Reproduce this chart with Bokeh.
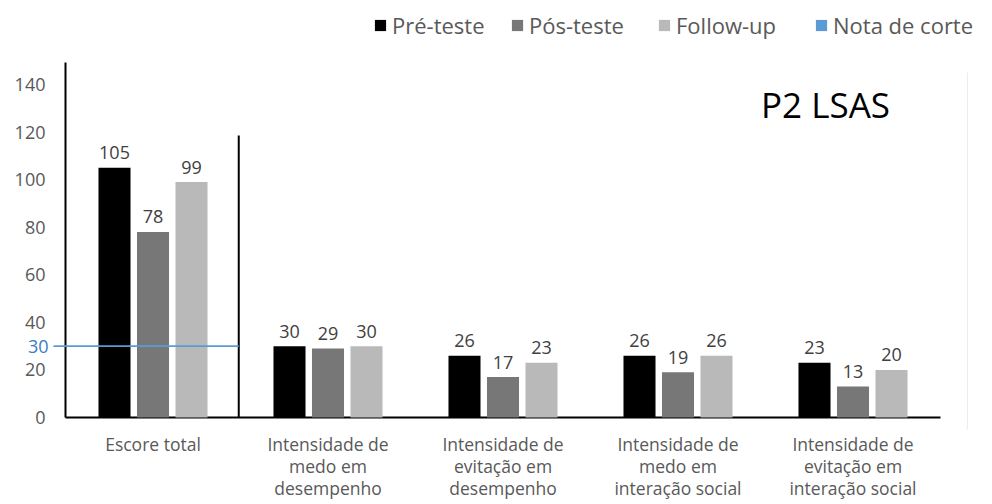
from bokeh.plotting import figure
from bokeh.models import (Range1d, FixedTicker, Legend, LegendItem, ColumnDataSource)
from bokeh.core.properties import value
from bokeh.embed import file_html
from bokeh.resources import INLINE

# ---- data -------------------------------------------------------------
categories = [
    "Escore total",
    "Intensidade de\nmedo em\ndesempenho",
    "Intensidade de\nevitação em\ndesempenho",
    "Intensidade de\nmedo em\ninteração social",
    "Intensidade de\nevitação em\ninteração social",
]
pre_teste = [105, 30, 26, 26, 23]
pos_teste = [78, 29, 17, 19, 13]
follow_up = [99, 30, 23, 26, 20]
nota_de_corte = 30
series_names = ["Pré-teste", "Pós-teste", "Follow-up", "Nota de corte"]
y_ticks = [0, 20, 40, 60, 80, 100, 120, 140]
chart_title = "P2 LSAS"

# ---- styling ----------------------------------------------------------
FONT = "Open Sans"
colors = ["#000000", "#777777", "#b9b9b9"]
cut_color = "#5b9bd5"

p = figure(width=992, height=504, output_backend="svg", toolbar_location=None,
           x_range=Range1d(-65 / 175, 927 / 175), y_range=Range1d(-5.04, 175.3),
           min_border_left=0, min_border_right=0, min_border_top=0,
           min_border_bottom=75)
p.outline_line_color = None
p.xgrid.visible = False
p.ygrid.visible = False
p.background_fill_color = "white"
p.border_fill_color = "white"

centers = [i + 0.5 for i in range(len(categories))]

# y axis drawn at the left edge of the first category
p.yaxis.fixed_location = 0
p.yaxis.ticker = FixedTicker(ticks=y_ticks)
p.yaxis.axis_line_color = None
p.yaxis.major_tick_line_color = None
p.yaxis.major_tick_out = 0
p.yaxis.major_tick_in = 0
p.yaxis.minor_tick_line_color = None
p.yaxis.major_label_standoff = 20
p.yaxis.major_label_text_font = FONT
p.yaxis.major_label_text_font_size = "18px"
p.yaxis.major_label_text_color = "#595959"

p.xaxis.ticker = FixedTicker(ticks=centers)
p.xaxis.major_label_overrides = {c: lab for c, lab in zip(centers, categories)}
p.xaxis.axis_line_color = None
p.xaxis.major_tick_line_color = None
p.xaxis.major_tick_out = 0
p.xaxis.major_tick_in = 0
p.xaxis.minor_tick_line_color = None
p.xaxis.major_label_standoff = 2
p.xaxis.major_label_text_font = FONT
p.xaxis.major_label_text_font_size = "17.5px"
p.xaxis.major_label_text_line_height = 0.93
p.xaxis.major_label_text_color = "#595959"

# axis lines, separator and faint border
p.segment(x0=[0], y0=[0], x1=[len(categories)], y1=[0], line_color="black", line_width=2)
p.segment(x0=[0], y0=[0], x1=[0], y1=[149.2], line_color="black", line_width=2)
p.segment(x0=[0.99], y0=[0], x1=[0.99], y1=[118.5], line_color="black", line_width=2)
p.segment(x0=[5.154], y0=[-6], x1=[5.154], y1=[145], line_color="#ececec", line_width=1)

# bars
offsets = [-0.22, 0.0, 0.22]
bar_w = 0.183
renderers = []
for vals, off, col in zip([pre_teste, pos_teste, follow_up], offsets, colors):
    src = ColumnDataSource(dict(x=[c + off for c in centers], top=vals,
                                lab=[str(v) for v in vals]))
    r = p.vbar(x="x", top="top", width=bar_w, source=src, fill_color=col, line_color=None)
    renderers.append(r)
    p.text(x="x", y="top", text="lab", source=src, y_offset=-15,
           text_align="center", text_baseline="alphabetic",
           text_font=value(FONT), text_font_size="18px", text_color="#404040")

# cut-off line across the total score group
cut = p.hbar(y=[nota_de_corte], left=[-0.069], right=[0.99], height=0.8,
             fill_color=cut_color, line_color=None)
renderers.append(cut)
p.text(x=[-0.097], y=[nota_de_corte], text=[str(nota_de_corte)], text_align="right",
       text_baseline="middle", text_font=value(FONT), text_font_size="18px",
       text_color="#3a7cc5")

# chart title inside the plot area
p.text(x=[4.343], y=[131.6], text=[chart_title], text_align="center",
       text_baseline="middle", text_font=value(FONT), text_font_size="35px",
       text_color="black")

# one legend per entry so each sits where it should (location = bottom-left)
legend_x = [373, 510, 657, 814]
for name, r, lx in zip(series_names, renderers, legend_x):
    lg = Legend(items=[LegendItem(label=name, renderers=[r])], location=(lx, 389),
                orientation="horizontal", glyph_width=14, glyph_height=14,
                label_standoff=5, padding=0, margin=0, spacing=0,
                border_line_color=None, background_fill_alpha=0,
                label_text_font=FONT, label_text_font_size="22px",
                label_text_color="#595959")
    p.add_layout(lg, "center")

open("out.html", "w").write(file_html(p, INLINE))
